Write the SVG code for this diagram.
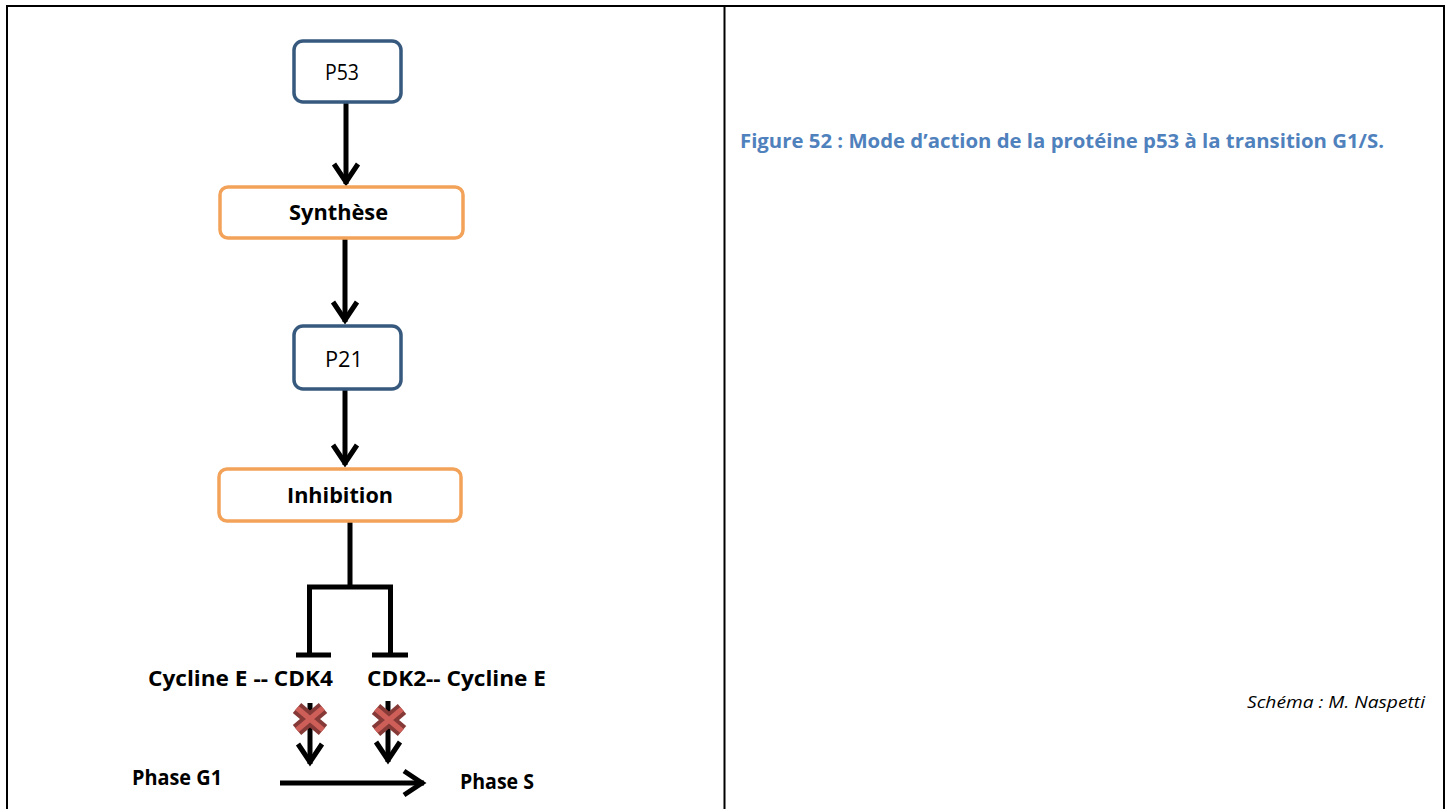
<svg xmlns="http://www.w3.org/2000/svg" width="1452" height="809" viewBox="0 0 1452 809">
<style>
.frame{stroke:#000;stroke-width:2;fill:none}
.bbox{fill:#fff;stroke:#36597d;stroke-width:3.5}
.obox{fill:#fff;stroke:#f3a25a;stroke-width:3.5}
.reg{font-family:"Open Sans","Liberation Sans",sans-serif;font-size:21px;fill:#000}
.bold{font-family:"Open Sans","Liberation Sans",sans-serif;font-weight:bold;font-size:22px;fill:#000}
.conn{stroke:#000;stroke-width:5;fill:none}
.xo{stroke:#863a38;stroke-width:13;fill:none}
.xi{stroke:#cd5f58;stroke-width:5.5;fill:none}
.cap{font-family:"Open Sans","Liberation Sans",sans-serif;font-weight:bold;font-size:19.5px;fill:#4f81bd}
.ital{font-family:"Open Sans","Liberation Sans",sans-serif;font-style:italic;font-size:17px;fill:#000}
</style>
<defs>
<marker id="chev" markerUnits="userSpaceOnUse" markerWidth="60" markerHeight="60" viewBox="-30 -30 60 60" refX="0" refY="0" orient="auto" overflow="visible">
<path d="M-20,-12 L-2,0 L-20,12" stroke="#000" stroke-width="5" fill="none"/>
</marker>
</defs>
<rect width="1452" height="809" fill="#fff"/>
<g id="table">
<path class="frame" d="M7,809 V6 H1444 V809 M724.5,6 V809"/>
</g>
<g id="connectors">
<line class="conn" x1="346" y1="103" x2="346" y2="184" marker-end="url(#chev)"/>
<line class="conn" x1="345" y1="239" x2="345" y2="322" marker-end="url(#chev)"/>
<line class="conn" x1="345" y1="390" x2="345" y2="465" marker-end="url(#chev)"/>
<path class="conn" d="M350,522 V587 M309.5,655 V587 H390.5 V655"/>
<path class="conn" d="M296,655 H331 M372,655 H408"/>
<line class="conn" x1="310" y1="703" x2="310" y2="764" marker-end="url(#chev)"/>
<line class="conn" x1="388" y1="701" x2="388" y2="762" marker-end="url(#chev)"/>
<line class="conn" x1="280" y1="783" x2="424" y2="783" marker-end="url(#chev)"/>
</g>
<g id="n-p53">
<rect class="bbox" x="294" y="41" width="107" height="61" rx="9"/>
<text class="reg" x="342" y="80" text-anchor="middle" textLength="34" lengthAdjust="spacingAndGlyphs">P53</text>
</g>
<g id="n-synthese">
<rect class="obox" x="220" y="187" width="243" height="51" rx="8"/>
<text class="bold" x="338.5" y="220" text-anchor="middle" textLength="99" lengthAdjust="spacingAndGlyphs">Synthèse</text>
</g>
<g id="n-p21">
<rect class="bbox" x="294" y="326" width="107" height="63" rx="9"/>
<text class="reg" x="344" y="367" text-anchor="middle" textLength="38" lengthAdjust="spacingAndGlyphs">P21</text>
</g>
<g id="n-inhibition">
<rect class="obox" x="219" y="469" width="242" height="52" rx="8"/>
<text class="bold" x="340" y="503" text-anchor="middle" textLength="106" lengthAdjust="spacingAndGlyphs">Inhibition</text>
</g>
<g id="n-cdk4">
<text class="bold" x="148" y="686" textLength="185" lengthAdjust="spacingAndGlyphs">Cycline E -- CDK4</text>
</g>
<g id="n-cdk2">
<text class="bold" x="367" y="686" textLength="179" lengthAdjust="spacingAndGlyphs">CDK2-- Cycline E</text>
</g>
<g id="crosses">
<path class="xo" d="M297,708 L323,730 M323,708 L297,730"/>
<path class="xi" d="M297,708 L323,730 M323,708 L297,730"/>
<path class="xo" d="M376,709 L402,731 M402,709 L376,731"/>
<path class="xi" d="M376,709 L402,731 M402,709 L376,731"/>
</g>
<g id="n-g1">
<text class="bold" x="132" y="785" textLength="90" lengthAdjust="spacingAndGlyphs">Phase G1</text>
</g>
<g id="n-s">
<text class="bold" x="460" y="789" textLength="74" lengthAdjust="spacingAndGlyphs">Phase S</text>
</g>
<g id="caption">
<text class="cap" x="740" y="148" textLength="644" lengthAdjust="spacingAndGlyphs">Figure 52 : Mode d’action de la protéine p53 à la transition G1/S.</text>
<text class="ital" x="1247" y="708" textLength="178" lengthAdjust="spacingAndGlyphs">Schéma : M. Naspetti</text>
</g>
</svg>
